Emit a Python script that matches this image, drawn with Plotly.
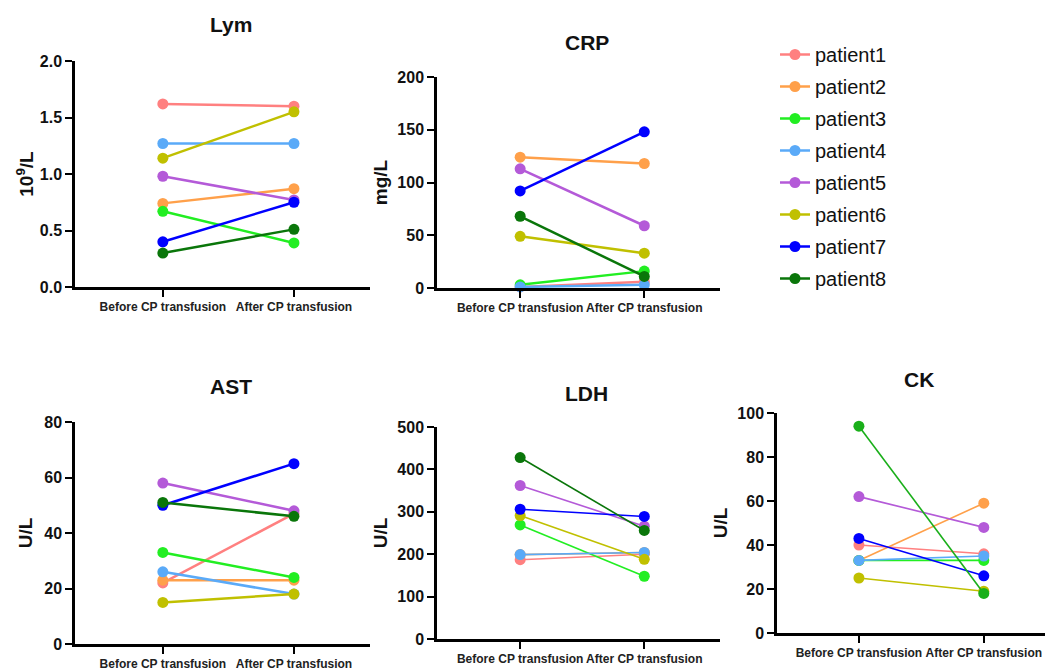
import plotly.graph_objects as go

# page places the figure 8px in from the top-left corner
OFF = 8
W, H = 1056 - OFF, 670 - OFF

categories = ["Before CP transfusion", "After CP transfusion"]
patients = ["patient1", "patient2", "patient3", "patient4",
            "patient5", "patient6", "patient7", "patient8"]
colors = ["#FF8080", "#FFA04A", "#22EE22", "#5AAAF8",
          "#B45AD8", "#C0C000", "#0000FF", "#0A760A"]

lym = [[1.62, 1.60], [0.74, 0.87], [0.67, 0.39], [1.27, 1.27],
       [0.98, 0.77], [1.14, 1.55], [0.40, 0.75], [0.30, 0.51]]
crp = [[1, 6], [124, 118], [3, 16], [1, 3],
       [113, 59], [49, 33], [92, 148], [68, 11]]
ast = [[22, 47], [23, 23], [33, 24], [26, 18],
       [58, 48], [15, 18], [50, 65], [51, 46]]
ldh = [[187, 200], [199, 204], [269, 148], [199, 204],
       [362, 266], [291, 188], [306, 289], [428, 256]]
ck = [[40, 36], [33, 59], [33, 33], [33, 35],
      [62, 48], [25, 19], [43, 26], [94, 18]]

# panel: (title, unit, data, yrange, dtick, x px range, y px range (bottom, top),
#         line width, x range, title standoff)
panels = [
    ("Lym", "10<sup>9</sup>/L", lym, [0, 2], 0.5, (75, 370), (287, 61), 2.5, [-0.67, 1.58], 2),
    ("CRP", "mg/L", crp, [0, 200], 50, (437, 720), (288, 77), 2.5, [-0.67, 1.61], 5),
    ("AST", "U/L", ast, [0, 80], 20, (75, 370), (644, 422), 2.5, [-0.67, 1.58], 7),
    ("LDH", "U/L", ldh, [0, 500], 100, (437, 720), (639, 427), 1.6, [-0.67, 1.61], 5),
    ("CK", "U/L", ck, [0, 100], 20, (777, 1045), (633, 413), 1.6, [-0.656, 1.49], 5),
]
ck_p8_color = "#1AAF1A"


def px_x(v):
    return (v - OFF) / W


def px_y(v):
    return 1 - (v - OFF) / H


fig = go.Figure()
FONT = "Liberation Sans, Arial, sans-serif"

for k, (title, unit, data, yr, dt, xpx, ypx, lw, xr, so) in enumerate(panels):
    n = k + 1
    xa = "x" if n == 1 else f"x{n}"
    ya = "y" if n == 1 else f"y{n}"
    for i, p in enumerate(patients):
        c = colors[i]
        if title == "CK" and i == 7:
            c = ck_p8_color
        fig.add_trace(go.Scatter(
            x=[0, 1], y=data[i], mode="lines+markers",
            line=dict(color=c, width=lw),
            marker=dict(color=c, size=11),
            name=p, legendgroup=p, showlegend=(n == 1),
            xaxis=xa, yaxis=ya, cliponaxis=False,
        ))
    xkey = "xaxis" if n == 1 else f"xaxis{n}"
    ykey = "yaxis" if n == 1 else f"yaxis{n}"
    fig.layout[xkey] = dict(
        domain=[px_x(xpx[0]), px_x(xpx[1])],
        anchor=ya, range=xr, automargin=False,
        tickmode="array", tickvals=[0, 1], ticktext=categories,
        showline=True, linecolor="black", linewidth=2.5,
        ticks="outside", ticklen=7, tickwidth=2, tickcolor="black",
        showgrid=False, zeroline=False,
        tickfont=dict(family=FONT, size=12, color="#222", weight="bold"),
    )
    fig.layout[ykey] = dict(
        domain=[px_y(ypx[0]), px_y(ypx[1])],
        anchor=xa, range=yr, dtick=dt, tick0=0, automargin=False,
        tickformat=".1f" if title == "Lym" else "d",
        showline=True, linecolor="black", linewidth=2.5,
        ticks="outside", ticklen=7, tickwidth=2, tickcolor="black",
        showgrid=False, zeroline=False,
        tickfont=dict(family=FONT, size=16, color="#111", weight="bold"),
        title=dict(text=unit, standoff=so,
                   font=dict(family=FONT, size=19, color="#111", weight="bold")),
    )
    cx = (xpx[0] + xpx[1]) / 2 + 8
    title_y = {"Lym": 24, "CRP": 43, "AST": 387, "LDH": 393, "CK": 379}[title]
    fig.add_annotation(
        text=title, x=px_x(cx), y=px_y(title_y), xref="paper", yref="paper",
        showarrow=False, xanchor="center", yanchor="middle",
        font=dict(family=FONT, size=21, color="#111", weight="bold"),
    )

fig.update_layout(
    width=W, height=H,
    margin=dict(l=0, r=0, t=0, b=0, autoexpand=False),
    paper_bgcolor="white", plot_bgcolor="white",
    showlegend=True,
    legend=dict(
        x=px_x(775), y=px_y(35), xanchor="left", yanchor="top",
        font=dict(family=FONT, size=20, color="#111"),
        tracegroupgap=3, traceorder="grouped",
        bgcolor="rgba(0,0,0,0)",
    ),
)

fig.write_html("out.html")
